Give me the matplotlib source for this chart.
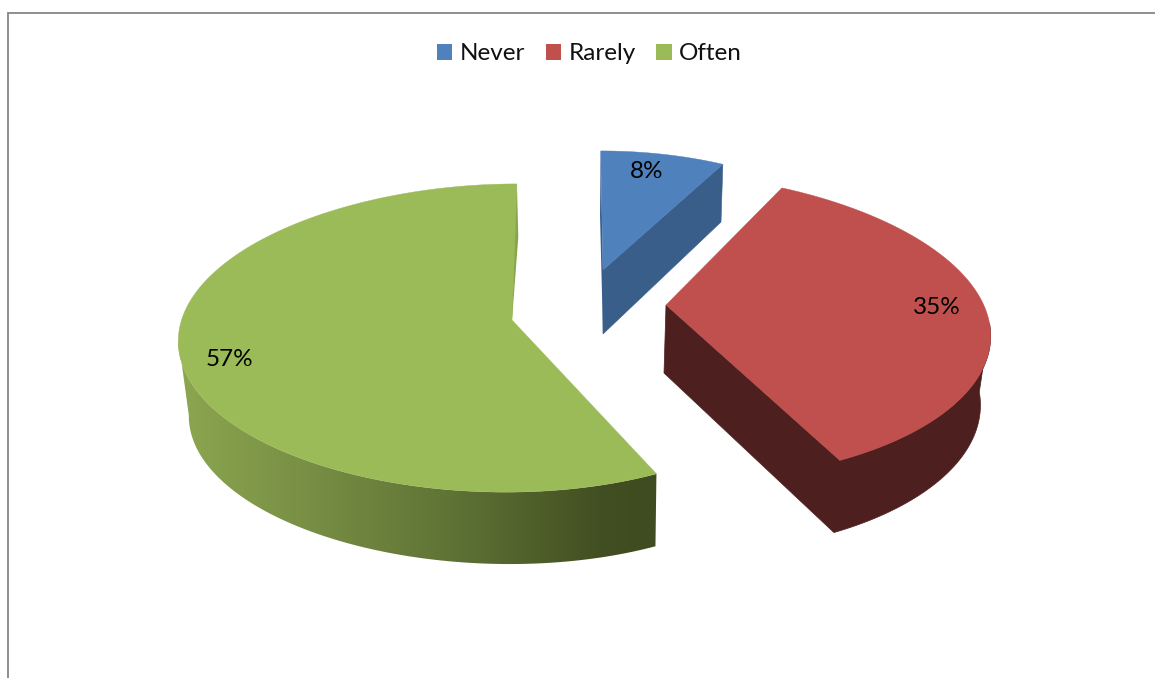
import numpy as np
import matplotlib
matplotlib.use("Agg")
import matplotlib.pyplot as plt
from matplotlib.patches import Polygon, Patch
from matplotlib.colors import LinearSegmentedColormap

# data
categories = ["Never", "Rarely", "Often"]
values = [8, 35, 57]
labels = ["8%", "35%", "57%"]

# style
top_colors = ["#4F81BD", "#C0504D", "#9BBB59"]
wall_colors = ["#3A5E8A", "#4E1F1F", None]
label_pos = [(647, 172), (937, 308), (229, 360)]
# projection of each exploded slice: apex, x scale, y scale, shear, perspective, bulge
top_proj = [
    dict(ax=603, ay=270, A=279, B=133, C=-2.6, k=0.117, g=0.0),
    dict(ax=666, ay=305, A=310, B=150, C=-21.9, k=0.14, g=0.025),
    dict(ax=512, ay=320, A=315, B=152, C=5.5, k=0.117, g=0.05),
]
bottom_proj = [
    dict(ax=603, ay=334, A=271, B=129, C=-2.6, k=0.117, g=0.0),
    dict(ax=664, ay=373, A=302, B=154, C=-21.9, k=0.14, g=0.025),
    dict(ax=512, ay=397, A=305.5, B=147.5, C=2, k=0.117, g=0.05),
]
visible_outer = [None, 97, 263]  # where the rim silhouette turns away

plt.rcParams["font.family"] = ["Lato", "DejaVu Sans"]
fig = plt.figure(figsize=(11.55, 6.78), dpi=100)
ax = fig.add_axes([0, 0, 1, 1])
ax.set_xlim(0, 1155)
ax.set_ylim(678, 0)
ax.axis("off")

# chart frame
ax.plot([8, 8, 1155], [678, 13, 13], color="#868686", lw=1.3, solid_joinstyle="miter", zorder=1)

bounds = np.cumsum([0] + values) / sum(values) * 2 * np.pi


def project(th, p, t0, t1):
    X, Y = np.sin(th), np.cos(th)
    w = 1 + p["k"] * Y
    r = 1 + p["g"] * np.sin(np.pi * (th - t0) / (t1 - t0))
    return (p["ax"] + r * (p["A"] * X + p["C"] * Y) / w,
            p["ay"] - p["B"] * Y / w)


def rim(p, t0, t1, a, b, n=200):
    u, v = project(np.linspace(a, b, n), p, t0, t1)
    return np.column_stack([u, v])


green_cmap = LinearSegmentedColormap.from_list(
    "wall", [(0, "#8CA650"), (0.255, "#799045"), (0.57, "#5F7335"),
             (0.885, "#424F22"), (1, "#3F4B20")])

for i in range(len(values)):
    t0, t1 = bounds[i], bounds[i + 1]
    tp, bp = top_proj[i], bottom_proj[i]
    apex_t = np.array([[tp["ax"], tp["ay"]]])
    apex_b = np.array([[bp["ax"], bp["ay"]]])

    if i == 0:
        end_t = rim(tp, t0, t1, t1, t1, 1)
        end_b = np.array([[721, 222]])
        ax.add_patch(Polygon(np.vstack([apex_t, end_t, end_b, apex_b]), closed=True,
                             fc=wall_colors[i], ec=wall_colors[i], lw=0.4, zorder=2))
        start_t = rim(tp, t0, t1, t0, t0, 1)
        ax.add_patch(Polygon(np.vstack([start_t, [[600, 215]], apex_b, apex_t]), closed=True,
                             fc=wall_colors[i], ec="none", zorder=2))
    if i == 1:
        vis = np.radians(visible_outer[i])
        wall = np.vstack([apex_b, rim(bp, t0, t1, t1, vis), rim(tp, t0, t1, vis, t1), apex_t])
        ax.add_patch(Polygon(wall, closed=True, fc=wall_colors[i], ec=wall_colors[i], lw=0.5, zorder=2))
    if i == 2:
        vis = np.radians(visible_outer[i])
        wall = np.vstack([rim(tp, t0, t1, t0, vis), rim(bp, t0, t1, t0, vis)[::-1]])
        grad = np.linspace(0, 1, 256)[None, :]
        im = ax.imshow(grad, cmap=green_cmap, extent=(178, 657, 678, 0), aspect="auto", zorder=2)
        clip = Polygon(wall, closed=True, transform=ax.transData, fc="none", ec="none")
        ax.add_patch(clip)
        im.set_clip_path(clip)
        ax.set_xlim(0, 1155)
        ax.set_ylim(678, 0)
        end_t = rim(tp, t0, t1, t1, t1, 1)
        ax.add_patch(Polygon(np.vstack([end_t, [[518.3, 237]], apex_t, [[506.7, 313]]]), closed=True,
                             fc="#87A44E", ec="none", zorder=2))

    # top face
    face = np.vstack([apex_t, rim(tp, t0, t1, t0, t1)])
    ax.add_patch(Polygon(face, closed=True, fc=top_colors[i], ec=top_colors[i], lw=0.3, zorder=3))
    ax.text(*label_pos[i], labels[i], ha="center", va="center", fontsize=17.5, color="black", zorder=5)

handles = [Patch(fc=c, ec="none", label=n) for c, n in zip(top_colors, categories)]
ax.legend(handles=handles, ncol=3, frameon=False, fontsize=17.5,
          loc="center", bbox_to_anchor=(589.5 / 1155, 1 - 53.8 / 678),
          handlelength=0.62, handleheight=0.62, handletextpad=0.3,
          columnspacing=0.86, borderpad=0, labelcolor="#111111")

fig.savefig("out.png", dpi=100)
